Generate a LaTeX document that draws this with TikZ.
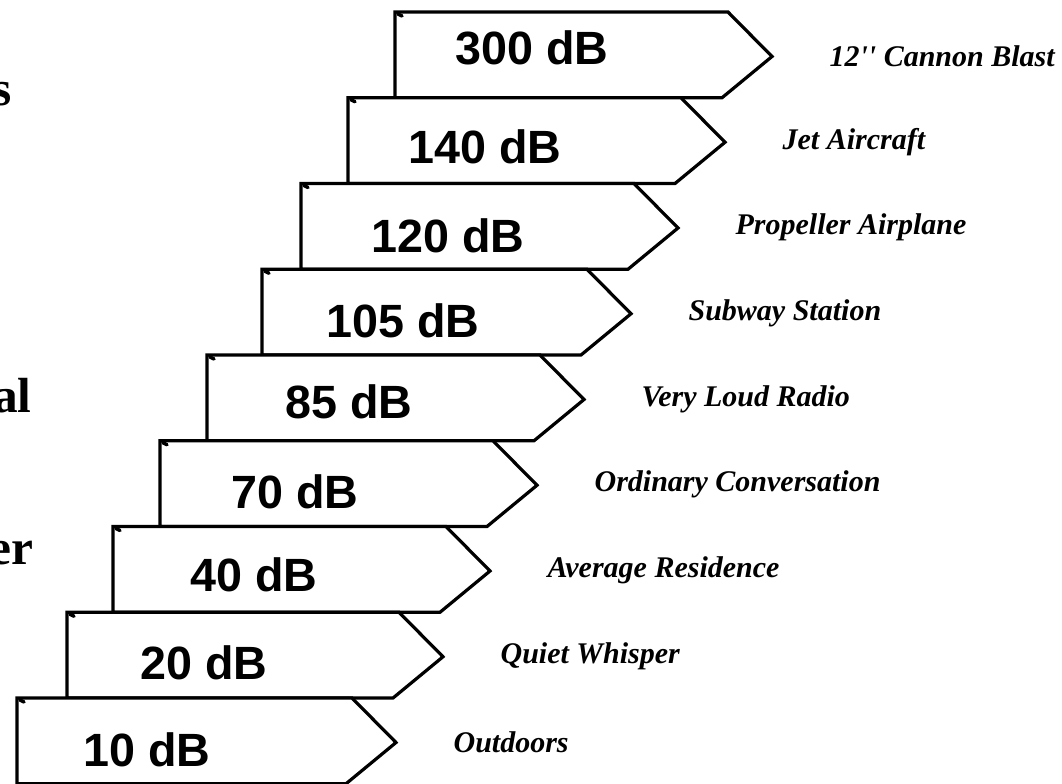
\documentclass[tikz,border=0pt]{standalone}
\usepackage{fontspec}
\setmainfont{Liberation Serif}
\newfontfamily\dbfont{Liberation Sans}
\newfontfamily\notefont{Liberation Serif}[Ligatures=TeXOff]

\begin{document}
\begin{tikzpicture}[x=0.75pt,y=-0.75pt,line width=2.4pt,line join=miter,
    dbval/.style={font=\dbfont\bfseries\fontsize{35}{35}\selectfont, inner sep=0pt},
    srcnote/.style={font=\notefont\bfseries\itshape\fontsize{22.5}{22.5}\selectfont, anchor=west, inner sep=0pt},
    cutword/.style={font=\bfseries\fontsize{37}{37}\selectfont, anchor=base east, inner sep=0pt}]
\useasboundingbox (0,0) rectangle (1062,783);
  %steps, top to bottom: value / source / left edge / text centre
  \foreach \db/\src/\lx/\cx/\cy [count=\i] in {
      300 dB/12'' Cannon Blast/395/532/48,
      140 dB/Jet Aircraft/348/485/147,
      120 dB/Propeller Airplane/301/448/236,
      105 dB/Subway Station/262/403/321,
      85 dB/Very Loud Radio/207/349/402,
      70 dB/Ordinary Conversation/160/295/492,
      40 dB/Average Residence/113/254/575,
      20 dB/Quiet Whisper/67/204/663,
      10 dB/Outdoors/17/147/750}
  {
    \pgfmathsetmacro\t{12+85.75*(\i-1)}
    \pgfmathsetmacro\b{\t+85.75}
    \pgfmathsetmacro\r{728-47*(\i-1)}
    \draw[fill=white] (\lx,\b) -- (\lx,\t) -- (\r,\t) -- (\r+44,\t+44.5) -- (\r-6,\b) -- cycle;
    \draw[line width=2.6pt,line cap=round] (\lx+3,\t+2) -- (\lx+7,\t+4); %corner tick
    \node[dbval] (db\i) at (\cx,\cy) {\db};
    \node[srcnote] (src\i) at (\r+100,\t+44) {\src};
  }
  %words cut off at the left edge
  \node[cutword] (cut1) at (13,105) {s};
  \node[cutword] (cut2) at (33,412) {al};
  \node[cutword] (cut3) at (35,564) {er};
\end{tikzpicture}
\end{document}
